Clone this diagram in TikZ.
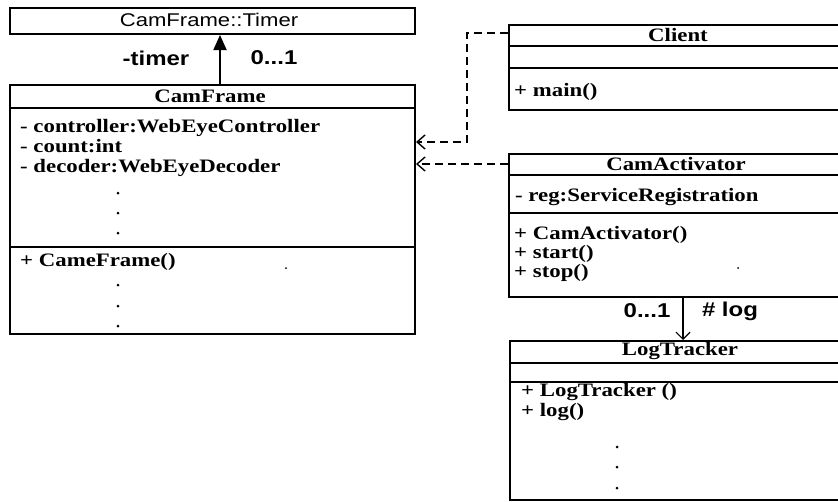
\documentclass[tikz,border=0pt]{standalone}
\usepackage{fontspec}
\setmainfont{Liberation Serif}
\newfontfamily\clsfont[FakeStretch=1.2]{Liberation Serif}
\newfontfamily\lblfont[FakeStretch=1.2]{Liberation Sans}
\usetikzlibrary{arrows.meta,calc}
\tikzset{
  classbox/.style={draw, line width=2pt, inner sep=0pt, anchor=north west},
  sepline/.style={line width=1.5pt},
  ctitle/.style={font=\clsfont\bfseries\fontsize{19}{20}\selectfont, inner sep=0pt},
  member/.style={font=\clsfont\bfseries\fontsize{19}{20}\selectfont, inner sep=0pt, anchor=base west},
  lbl/.style={font=\lblfont\bfseries\fontsize{20}{22}\selectfont, inner sep=0pt},
  dotm/.style={circle, fill, inner sep=0pt, minimum size=3pt},
  speck/.style={circle, fill, inner sep=0pt, minimum size=2pt},
  dep/.style={dash pattern=on 8pt off 5pt, line width=1.6pt, -{Straight Barb[length=8pt,width=14pt,line width=1.4pt]}},
  assoc/.style={line width=1.8pt, -{Triangle[length=15pt,width=13pt]}},
  navig/.style={line width=1.5pt, -{Straight Barb[length=7pt,width=14pt,line width=1.2pt]}}
}
\begin{document}
\begin{tikzpicture}[x=1pt,y=-1pt]
\clip (0,0) rectangle (838,501);
\fill[white] (0,0) rectangle (838,501);

% CamFrame::Timer
\node[classbox, minimum width=405pt, minimum height=26pt] (timer) at (9,7) {};
\node[font=\lblfont\fontsize{18.4}{20}\selectfont, inner sep=0pt] (timername) at (209,20) {CamFrame::Timer};

% CamFrame
\node[classbox, minimum width=405pt, minimum height=249pt] (frame) at (9,84) {};
\draw[sepline] (frame.west |- 0,108) -- (frame.east |- 0,108);
\draw[sepline] (frame.west |- 0,247) -- (frame.east |- 0,247);
\node[ctitle] (frametitle) at (210,96) {CamFrame};
\node[member] (fa1) at (20,132) {- controller:WebEyeController};
\node[member] (fa2) at (20,152) {- count:int};
\node[member] (fa3) at (20,172) {- decoder:WebEyeDecoder};
\node[dotm] (fd1) at (118,193) {};
\node[dotm] (fd2) at (118,213) {};
\node[dotm] (fd3) at (118,233) {};
\node[member] (fm1) at (20,266) {+ CameFrame()};
\node[dotm] (fd4) at (118,285) {};
\node[dotm] (fd5) at (118,306) {};
\node[dotm] (fd6) at (118,326) {};
\node[speck] (fs1) at (286,268) {};

% Client
\node[classbox, minimum width=337pt, minimum height=85pt] (client) at (508,24) {};
\draw[sepline] (client.west |- 0,46) -- (client.east |- 0,46);
\draw[sepline] (client.west |- 0,68) -- (client.east |- 0,68);
\node[ctitle] (clienttitle) at (678,35) {Client};
\node[member] (cm1) at (514,96) {+ main()};

% CamActivator
\node[classbox, minimum width=337pt, minimum height=143pt] (activ) at (508,153) {};
\draw[sepline] (activ.west |- 0,175) -- (activ.east |- 0,175);
\draw[sepline] (activ.west |- 0,213) -- (activ.east |- 0,213);
\node[ctitle] (activtitle) at (676,164) {CamActivator};
\node[member] (aa1) at (515,201) {- reg:ServiceRegistration};
\node[member] (am1) at (514,239) {+ CamActivator()};
\node[member] (am2) at (514,258) {+ start()};
\node[member] (am3) at (514,277) {+ stop()};
\node[speck] (as1) at (738,268) {};

% LogTracker
\node[classbox, minimum width=337pt, minimum height=159pt] (logt) at (509,340) {};
\draw[sepline] (logt.west |- 0,363) -- (logt.east |- 0,363);
\draw[sepline] (logt.west |- 0,382) -- (logt.east |- 0,382);
\node[ctitle] (logttitle) at (680,351) {LogTracker};
\node[member] (lm1) at (521,396) {+ LogTracker ()};
\node[member] (lm2) at (521,416) {+ log()};
\node[dotm] (ld1) at (617,447) {};
\node[dotm] (ld2) at (617,467) {};
\node[dotm] (ld3) at (617,488) {};

% connectors
\coordinate (tx) at (220,0);
\draw[assoc] (frame.north -| tx) -- (timer.south -| tx);
\node[lbl] (timerrole) at (156,58) {-timer};
\node[lbl] (timermult) at (274,58) {0...1};

\coordinate (lx) at (683,0);
\draw[navig] (activ.south -| lx) -- (logt.north -| lx);
\node[lbl] (logmult) at (647,311) {0...1};
\node[lbl] (logrole) at (730,311) {\# log};

\coordinate (cb1) at (467,33);
\coordinate (cb2) at (467,142);
\draw[dep] (client.west |- cb1) -- (cb1) -- (cb2) -- (frame.east |- cb2);
\coordinate (ab1) at (0,164);
\draw[dep] (activ.west |- ab1) -- (frame.east |- ab1);
\end{tikzpicture}
\end{document}
